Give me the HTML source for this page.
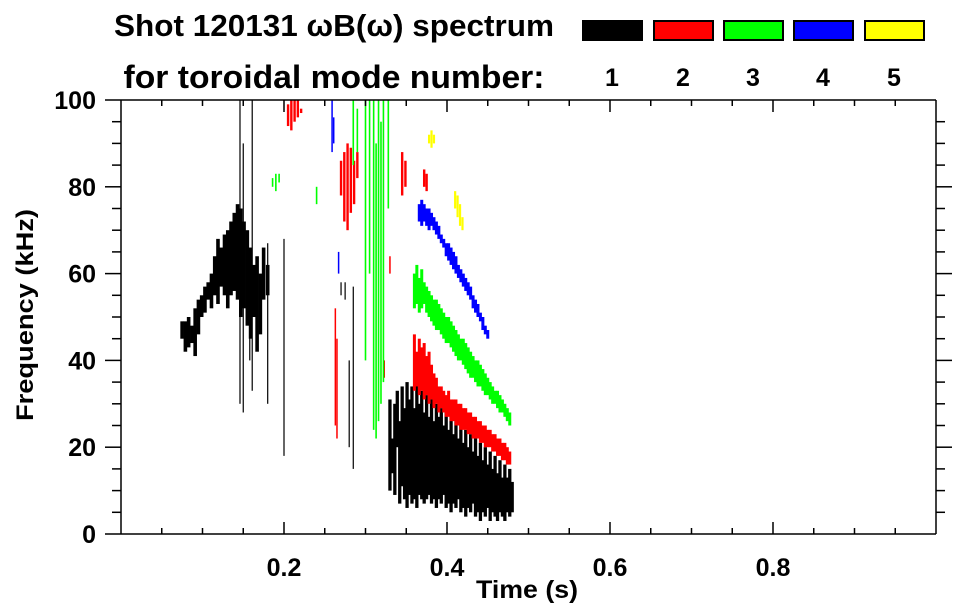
<!DOCTYPE html>
<html><head><meta charset="utf-8">
<style>
html,body{margin:0;padding:0;background:#fff;}
svg{display:block;font-family:"Liberation Sans",sans-serif;font-weight:bold;}
</style></head>
<body>
<svg id="chart" width="963" height="615" viewBox="0 0 963 615" xmlns="http://www.w3.org/2000/svg">
  <text x="334" y="36" font-size="31" text-anchor="middle" textLength="440" lengthAdjust="spacingAndGlyphs">Shot 120131 ωB(ω) spectrum</text>
  <text x="334" y="88" font-size="32" text-anchor="middle" textLength="421" lengthAdjust="spacingAndGlyphs">for toroidal mode number:</text>
  <g id="legend"></g>
  <g id="marks"></g>
  <g id="axes"></g>
  <text transform="translate(33,315) rotate(-90)" font-size="24" text-anchor="middle" textLength="212" lengthAdjust="spacingAndGlyphs">Frequency (kHz)</text>
  <text x="527" y="598" font-size="25" text-anchor="middle" textLength="102" lengthAdjust="spacingAndGlyphs">Time (s)</text>
</svg>
<script>
// ---------- data ----------
const modeNames = ["1","2","3","4","5"];
const modeColors = ["#000000","#ff0000","#00ff00","#0000ff","#ffff00"];
const xTicks = [0.2,0.4,0.6,0.8];
const yTicks = [0,20,40,60,80,100];

// mode 1 (black) - early blob
const m1aT  = [0.075,0.079,0.083,0.087,0.091,0.095,0.099,0.103,0.107,0.111,0.115,0.119,0.123,0.127,0.131,0.135,0.139,0.143,0.147,0.151,0.155,0.159,0.163,0.167,0.171,0.175,0.180];
const m1aLo = [45,42,43,44,41,46,50,51,54,52,55,53,57,55,52,55,56,54,50,52,48,45,50,42,46,54,55];
const m1aHi = [49,49,50,48,52,54,55,57,58,60,64,68,66,69,70,72,74,76,75,72,70,66,62,64,60,66,62];
// mode 1 (black) - late broadband blob
const m1bT  = [0.330,0.333,0.336,0.339,0.342,0.345,0.348,0.351,0.354,0.357,0.360,0.363,0.366,0.369,0.372,0.375,0.378,0.381,0.384,0.387,0.390,0.393,0.396,0.399,0.402,0.405,0.408,0.411,0.414,0.417,0.420,0.423,0.426,0.429,0.432,0.435,0.438,0.441,0.444,0.447,0.450,0.453,0.456,0.459,0.462,0.465,0.468,0.471,0.474,0.477,0.480];
const m1bLo = [10,14,9,20,7,11,8,6,9,7,8,6,9,8,7,8,9,7,8,6,8,7,9,6,7,5,7,6,8,5,6,4,6,5,7,4,5,3,5,4,6,3,5,4,3,5,4,3,5,4,5];
const m1bHi = [31,22,30,33,26,34,29,35,31,34,29,36,30,33,28,32,27,31,26,30,27,29,25,28,24,27,23,26,22,25,21,24,20,23,19,22,18,21,17,20,16,19,15,18,14,17,13,16,13,15,12];
// mode 1 thin lines
const m1lT  = [0.146,0.150,0.158,0.161,0.180,0.200,0.270,0.275,0.280,0.285,0.350,0.355];
const m1lLo = [30,28,40,33,30,18,55,54,20,15,15,10];
const m1lHi = [100,90,65,100,67,68,58,58,40,57,30,28];

// mode 2 (red)
const m2aT  = [0.205,0.209,0.213,0.217,0.221,0.270,0.274,0.278,0.282,0.286,0.290,0.345,0.349,0.372,0.375];
const m2aLo = [94,93,95,96,97,78,72,70,74,76,82,78,80,80,79];
const m2aHi = [99,100,100,100,98,86,88,90,89,86,88,88,86,84,83];
const m2bT  = [0.360,0.363,0.366,0.369,0.372,0.375,0.378,0.381,0.384,0.387,0.390,0.393,0.396,0.399,0.402,0.405,0.408,0.411,0.414,0.417,0.420,0.423,0.426,0.429,0.432,0.435,0.438,0.441,0.444,0.447,0.450,0.453,0.456,0.459,0.462,0.465,0.468,0.471,0.474,0.477];
const m2bLo = [33,34,32,33,31,32,30,31,29,30,28,29,28,27,27,26,26,25,25,24,24,24,23,23,22,22,22,21,21,20,20,20,19,19,18,18,17,17,16,16];
const m2bHi = [46,42,45,43,44,41,42,39,37,36,34,34,33,32,33,31,31,31,30,30,29,29,28,28,27,27,26,26,25,25,24,24,23,23,22,22,21,21,20,19];
const m2lT  = [0.263,0.265,0.323,0.33];
const m2lLo = [25,22,36,60];
const m2lHi = [52,45,40,64];

// mode 3 (green)
const m3aT  = [0.186,0.190,0.194,0.240,0.285,0.290,0.300,0.305,0.310,0.313,0.316,0.319,0.322,0.328];
const m3aLo = [80,79,81,76,85,88,40,60,24,22,26,30,35,75];
const m3aHi = [82,83,83,80,100,98,100,100,100,90,100,95,100,100];
const m3bT  = [0.360,0.363,0.366,0.369,0.372,0.375,0.378,0.381,0.384,0.387,0.390,0.393,0.396,0.399,0.402,0.405,0.408,0.411,0.414,0.417,0.420,0.423,0.426,0.429,0.432,0.435,0.438,0.441,0.444,0.447,0.450,0.453,0.456,0.459,0.462,0.465,0.468,0.471,0.474,0.477];
const m3bLo = [52,53,51,52,53,51,50,49,48,47,47,46,45,44,44,43,42,41,40,40,39,38,37,36,36,35,34,34,33,32,32,31,30,30,29,28,28,27,26,25];
const m3bHi = [60,62,59,61,58,57,56,55,54,54,53,52,51,50,50,49,48,47,46,45,45,44,43,42,41,40,40,39,38,37,36,35,34,33,33,32,31,30,29,28];

// mode 4 (blue)
const m4aT  = [0.259,0.261,0.267];
const m4aLo = [88,90,60];
const m4aHi = [100,96,65];
const m4bT  = [0.366,0.369,0.372,0.375,0.378,0.381,0.384,0.387,0.390,0.393,0.396,0.399,0.402,0.405,0.408,0.411,0.414,0.417,0.420,0.423,0.426,0.429,0.432,0.435,0.438,0.441,0.444,0.447,0.450];
const m4bLo = [72,71,72,71,70,71,70,69,68,67,66,64,63,62,61,60,59,58,57,56,55,54,52,51,50,49,47,46,45];
const m4bHi = [76,77,76,75,75,74,73,72,71,69,68,67,67,66,65,64,62,61,60,59,58,57,55,54,53,51,50,48,47];

// mode 5 (yellow)
const m5T  = [0.378,0.381,0.384,0.410,0.413,0.416,0.419];
const m5Lo = [90,89,90,75,73,71,70];
const m5Hi = [92,93,92,79,78,76,73];

// ---------- layout ----------
const L=121,R=936,T=100,B=534;
const xMin=0,xMax=1,yMin=0,yMax=100;
const X=t=>L+(t-xMin)/(xMax-xMin)*(R-L);
const Y=f=>B-(f-yMin)/(yMax-yMin)*(B-T);
const NS="http://www.w3.org/2000/svg";
const marks=document.getElementById('marks');
const axes=document.getElementById('axes');
const legend=document.getElementById('legend');

function drawStrokes(ts,lo,hi,color,w,name){
  for(let i=0;i<ts.length;i++){
    const r=document.createElementNS(NS,'rect');
    
    
    r.setAttribute('x',X(ts[i])-w/2);
    r.setAttribute('y',Y(hi[i]));
    r.setAttribute('width',w);
    r.setAttribute('height',Math.max(1,Y(lo[i])-Y(hi[i])));
    r.setAttribute('fill',color);
    marks.appendChild(r);
  }
}
drawStrokes(m1aT,m1aLo,m1aHi,modeColors[0],3.6,'mode1-early-blob');
drawStrokes(m1bT,m1bLo,m1bHi,modeColors[0],3.3,'mode1-late-blob');
drawStrokes(m1lT,m1lLo,m1lHi,modeColors[0],1.2,'mode1-line');
drawStrokes(m2aT,m2aLo,m2aHi,modeColors[1],2.4,'mode2-early');
drawStrokes(m2bT,m2bLo,m2bHi,modeColors[1],3,'mode2-track');
drawStrokes(m2lT,m2lLo,m2lHi,modeColors[1],1.5,'mode2-line');
drawStrokes(m3aT,m3aLo,m3aHi,modeColors[2],1.6,'mode3-early');
drawStrokes(m3bT,m3bLo,m3bHi,modeColors[2],3,'mode3-track');
drawStrokes(m4aT,m4aLo,m4aHi,modeColors[3],1.5,'mode4-early');
drawStrokes(m4bT,m4bLo,m4bHi,modeColors[3],3,'mode4-track');
drawStrokes(m5T,m5Lo,m5Hi,modeColors[4],2.2,'mode5-track');

function line(x1,y1,x2,y2,name){
  const l=document.createElementNS(NS,'line');
  
  
  l.setAttribute('x1',x1);l.setAttribute('y1',y1);l.setAttribute('x2',x2);l.setAttribute('y2',y2);
  l.setAttribute('stroke','#000');l.setAttribute('stroke-width','1.5');
  axes.appendChild(l);
}
function text(x,y,s,size,anchor,name){
  const t=document.createElementNS(NS,'text');
  
  
  t.setAttribute('x',x);t.setAttribute('y',y);t.setAttribute('font-size',size);
  t.setAttribute('text-anchor',anchor);t.textContent=s;
  axes.appendChild(t);
}
line(105,B,R,B,'x-axis-bottom');
line(105,T,R,T,'x-axis-top');
line(L,T,L,B,'y-axis-left');
line(R,T,R,B,'y-axis-right');
for(let k=1;k<20;k++){
  const t=k*0.05, x=X(t), major=(k%4===0), len=major?12:6;
  line(x,B,x,B-len,'x-tick');
  line(x,T,x,T+len,'x-tick-top');
}
for(let k=1;k<20;k++){
  const f=k*5, y=Y(f), major=(k%4===0), len=major?16:9;
  line(L,y,L-len,y,'y-tick');
  line(R,y,R+len,y,'y-tick-right');
}
xTicks.forEach(v=>text(X(v),576,v.toFixed(1),25,'middle','x-tick-label'));
yTicks.forEach(v=>text(96,Y(v)+9,String(v),25,'end','y-tick-label'));

// legend
const boxX=[582,653,723,793,864];
modeNames.forEach((n,i)=>{
  const r=document.createElementNS(NS,'rect');
  
  
  r.setAttribute('x',boxX[i]+1);r.setAttribute('y',21);
  r.setAttribute('width',59);r.setAttribute('height',19);
  r.setAttribute('fill',modeColors[i]);r.setAttribute('stroke','#000');r.setAttribute('stroke-width','2');
  legend.appendChild(r);
  const t=document.createElementNS(NS,'text');
  
  
  t.setAttribute('x',boxX[i]+30);t.setAttribute('y',86);t.setAttribute('font-size',25);
  t.setAttribute('text-anchor','middle');t.textContent=n;
  legend.appendChild(t);
});
</script>
</body></html>
